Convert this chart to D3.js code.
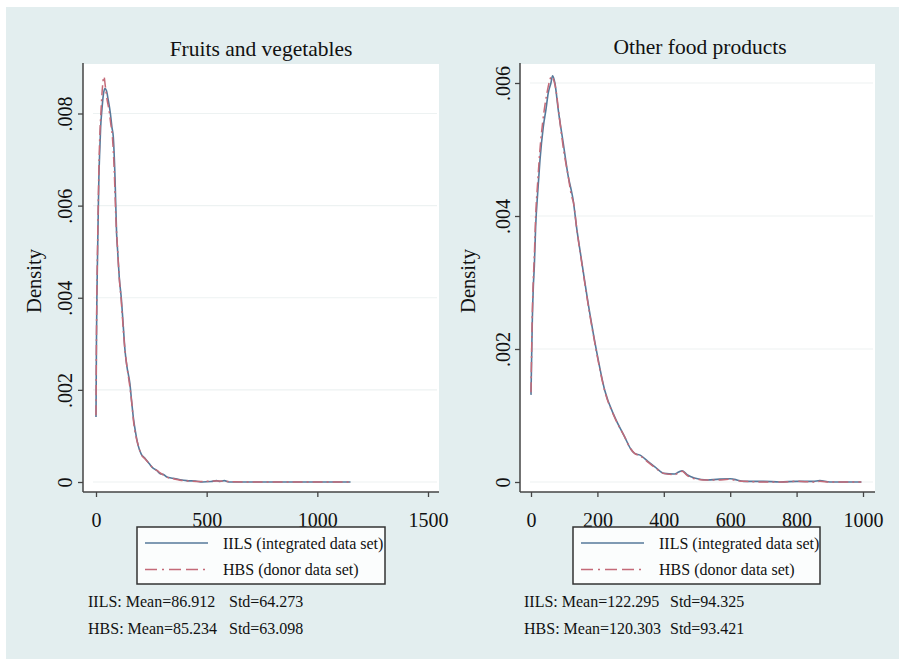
<!DOCTYPE html>
<html><head><meta charset="utf-8">
<script src="https://cdn.jsdelivr.net/npm/d3@7"></script>
<style>body{margin:0;background:#fff}svg{display:block}text{font-family:"Liberation Serif","Times New Roman",serif;fill:#111}</style>
</head><body><svg id="c" width="899" height="659"></svg>
<script>
// ---------- data ----------
const titles = ["Fruits and vegetables", "Other food products"];
const seriesNames = ["IILS (integrated data set)", "HBS (donor data set)"];
const statsFV = ["IILS: Mean=86.912", "Std=64.273", "HBS: Mean=85.234", "Std=63.098"];
const statsOF = ["IILS: Mean=122.295", "Std=94.325", "HBS: Mean=120.303", "Std=93.421"];
const xTicksFV = [0, 500, 1000, 1500];
const yTicksFV = [0, 0.002, 0.004, 0.006, 0.008];
const xTicksOF = [0, 200, 400, 600, 800, 1000];
const yTicksOF = [0, 0.002, 0.004, 0.006];

const fvIILS_x = [0,2,4,7,10,13,17,21,27,33,40,47,55,65,72,78,86,93,98,105,115,123,131,140,153,162,170,178,190,205,220,240,258,273,290,303,320,348,380,410,450,480,520,545,560,580,600,700,900,1150];
const fvIILS_y = [0.00141,0.0030,0.0040,0.0049,0.0058,0.0066,0.0072,0.0077,0.0081,0.0084,0.00854,0.0085,0.0083,0.0080,0.0077,0.0075,0.0066,0.0054,0.0050,0.00445,0.00395,0.0034,0.00286,0.0025,0.00214,0.0017,0.00135,0.0011,0.0008,0.0006,0.00052,0.0004,0.0003,0.00026,0.00018,0.00017,0.00011,0.00008,0.00005,0.00003,0.00002,0.0,0.00001,0.00003,0.00001,0.00003,0.0,0.0,0.0,0.0];
const fvHBS_x = [0,2,4,7,10,13,17,22,28,36,42,50,58,66,74,82,90,97,104,113,122,130,140,152,162,170,180,192,206,222,240,258,275,290,305,322,350,380,420,470,520,560,600,700,900,1150];
const fvHBS_y = [0.00145,0.0031,0.0041,0.0051,0.0060,0.0068,0.0075,0.0080,0.0085,0.0088,0.0086,0.0083,0.0081,0.0078,0.0075,0.0068,0.0057,0.0051,0.0045,0.0040,0.0034,0.0029,0.0025,0.0021,0.0017,0.0013,0.0010,0.00078,0.00058,0.0005,0.0004,0.0003,0.00025,0.0002,0.00015,0.0001,0.00007,0.00004,0.00002,0.00001,0.00002,0.00002,0.00001,0.0,0.0,0.0];

const ofIILS_x = [0,2,4,7,10,14,20,27,37,45,52,60,65,72,82,97,112,122,127,137,152,177,197,222,252,282,300,312,330,352,375,400,432,445,455,470,492,532,560,600,612,640,700,750,800,850,870,900,995];
const ofIILS_y = [0.00131,0.0019,0.00244,0.00294,0.00324,0.00384,0.00434,0.00484,0.00534,0.0056,0.00585,0.0060,0.00611,0.0060,0.0056,0.0051,0.0046,0.00437,0.00424,0.00384,0.00334,0.00254,0.00198,0.00138,0.00098,0.00068,0.0005,0.00043,0.0004,0.00031,0.00022,0.00013,0.00012,0.00015,0.00017,0.00011,0.00006,0.00003,0.00004,0.00005,0.00004,0.00001,0.00001,0.0,0.00001,0.00001,0.00002,0.0,0.0];
const ofHBS_x = [0,2,4,7,10,14,20,27,35,43,50,57,62,68,75,85,98,112,122,128,138,152,177,197,222,252,282,300,312,330,352,375,400,432,445,455,470,492,532,560,600,612,640,700,750,800,850,870,900,995];
const ofHBS_y = [0.00135,0.0020,0.00255,0.00305,0.0034,0.0040,0.0045,0.0050,0.0054,0.0057,0.0059,0.00605,0.0061,0.00605,0.0059,0.0055,0.0050,0.0046,0.0043,0.0042,0.0038,0.00332,0.00252,0.00196,0.00137,0.00097,0.00068,0.0005,0.00043,0.00039,0.0003,0.00021,0.00013,0.00011,0.00014,0.00016,0.0001,0.00005,0.00003,0.00003,0.00004,0.00003,0.00001,0.0,0.0,0.00001,0.0,0.00001,0.0,0.0];

// ---------- drawing ----------
const svg = d3.select("#c");
svg.append("rect").attr("x",6).attr("y",7).attr("width",893).attr("height",652).attr("fill","#e3eeef");

const zip = (xs, ys) => xs.map((x, i) => [x, ys[i]]);

const panels = [
  {title: titles[0], titleX: 261, titleY: 56, plot: {x0: 83, x1: 439, y0: 63, y1: 492},
   x: d3.scaleLinear().domain([0,1500]).range([96,428]),
   y: d3.scaleLinear().domain([0,0.008]).range([482,113.5]),
   xt: xTicksFV, yt: yTicksFV, densX: 41, ylabX: 72,
   iils: zip(fvIILS_x, fvIILS_y), hbs: zip(fvHBS_x, fvHBS_y),
   leg: {x0:137, x1:385, y0:527, y1:584}, stats: statsFV, sx: 88, sx2: 229},
  {title: titles[1], titleX: 700, titleY: 54, plot: {x0: 520, x1: 875, y0: 63, y1: 492},
   x: d3.scaleLinear().domain([0,1000]).range([531,863]),
   y: d3.scaleLinear().domain([0,0.006]).range([482,83]),
   xt: xTicksOF, yt: yTicksOF, densX: 475, ylabX: 510,
   iils: zip(ofIILS_x, ofIILS_y), hbs: zip(ofHBS_x, ofHBS_y),
   leg: {x0:573, x1:820, y0:527, y1:584}, stats: statsOF, sx: 524, sx2: 670}
];

const fmt = v => v === 0 ? "0" : d3.format(".3f")(v).replace(/^0/, "");

panels.forEach(p => {
  const g = svg.append("g");
  const P = p.plot;
  g.append("rect").attr("x",P.x0).attr("y",P.y0+1).attr("width",P.x1-P.x0).attr("height",P.y1-P.y0-1).attr("fill","#ffffff");
  // grid
  g.selectAll(".grid").data(p.yt).join("line")
    .attr("x1",P.x0+10).attr("x2",P.x1-2)
    .attr("y1",d=>p.y(d)).attr("y2",d=>p.y(d))
    .attr("stroke","#edf2f2").attr("stroke-width",1.2);
  // title
  g.append("text").attr("x",p.titleX).attr("y",p.titleY).attr("text-anchor","middle")
    .style("font-size","21.5px").text(p.title);
  // x axis
  const xa = d3.axisBottom(p.x).tickValues(p.xt).tickSize(5).tickPadding(4).tickFormat(d3.format("d"));
  const gx = g.append("g").attr("transform",`translate(0,${P.y1})`).call(xa);
  gx.select(".domain").remove();
  gx.selectAll(".tick line").attr("stroke","#444").attr("stroke-width",1.3);
  gx.selectAll(".tick text").style("font-size","20px").style("font-family","Liberation Serif").attr("fill","#111").attr("y",21);
  // y axis
  const ya = d3.axisLeft(p.y).tickValues(p.yt).tickSize(5).tickFormat(fmt);
  const gy = g.append("g").attr("transform",`translate(${P.x0},0)`).call(ya);
  gy.select(".domain").remove();
  gy.selectAll(".tick line").attr("stroke","#444").attr("stroke-width",1.3);
  gy.selectAll(".tick text").attr("x",null).attr("dy",null)
    .attr("transform",`translate(${p.ylabX-P.x0},0) rotate(-90)`)
    .attr("text-anchor","middle").style("font-size","20px").style("font-family","Liberation Serif").attr("fill","#111");
  // axis lines
  g.append("line").attr("x1",P.x0).attr("x2",P.x0).attr("y1",P.y0).attr("y2",P.y1).attr("stroke","#444").attr("stroke-width",1.5);
  g.append("line").attr("x1",P.x0).attr("x2",P.x1).attr("y1",P.y1).attr("y2",P.y1).attr("stroke","#444").attr("stroke-width",1.5);
  // Density label
  g.append("text").attr("transform",`translate(${p.densX},281) rotate(-90)`).attr("text-anchor","middle")
    .style("font-size","20.5px").text("Density");
  // curves
  const line = d3.line().x(d=>p.x(d[0])).y(d=>p.y(d[1])).curve(d3.curveMonotoneX);
  g.append("path").datum(p.iils).attr("d",line).attr("fill","none").attr("stroke","#56799a").attr("stroke-width",1.6);
  g.append("path").datum(p.hbs).attr("d",line).attr("fill","none").attr("stroke","#c46a78").attr("stroke-width",1.5)
    .attr("stroke-dasharray","10,4,2,4");
  // legend
  const L = p.leg;
  g.append("rect").attr("x",L.x0).attr("y",L.y0).attr("width",L.x1-L.x0).attr("height",L.y1-L.y0)
    .attr("fill","#fbfdfd").attr("stroke","#333").attr("stroke-width",1.5);
  const rows = [{y:543, c:"#56799a", dash:null, t:seriesNames[0]},{y:569.5, c:"#c46a78", dash:"12,5,2,5,12,5", t:seriesNames[1]}];
  rows.forEach(r => {
    g.append("line").attr("x1",L.x0+8).attr("x2",L.x0+71).attr("y1",r.y).attr("y2",r.y)
      .attr("stroke",r.c).attr("stroke-width",1.6).attr("stroke-dasharray",r.dash);
    g.append("text").attr("x",L.x0+86).attr("y",r.y+5.5).style("font-size","16px").text(r.t);
  });
  // stats
  g.append("text").attr("x",p.sx).attr("y",607).style("font-size","16px").text(p.stats[0]);
  g.append("text").attr("x",p.sx2).attr("y",607).style("font-size","16px").text(p.stats[1]);
  g.append("text").attr("x",p.sx).attr("y",634).style("font-size","16px").text(p.stats[2]);
  g.append("text").attr("x",p.sx2).attr("y",634).style("font-size","16px").text(p.stats[3]);
});
</script></body></html>
